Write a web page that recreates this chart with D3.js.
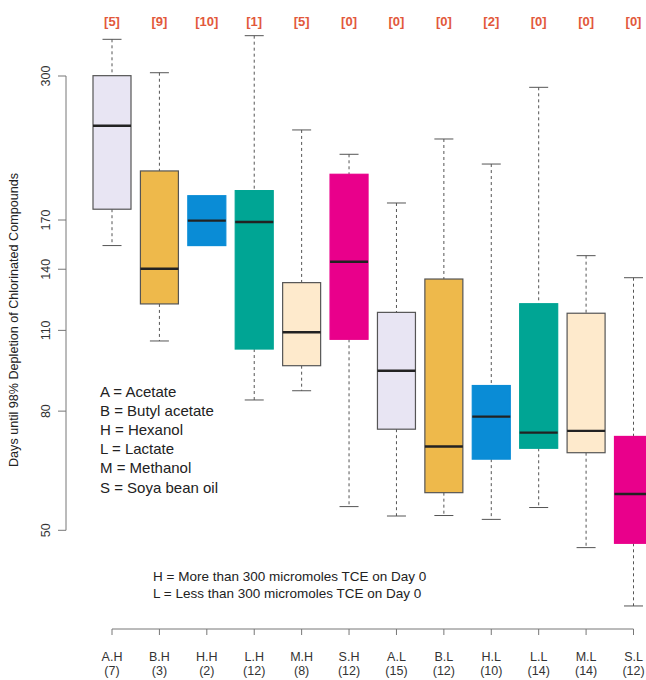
<!DOCTYPE html>
<html>
  <head>
    <meta charset="utf-8">
    <title>Days until 98% depletion</title>
    <script src="https://d3js.org/d3.v7.min.js"></script>
    <style>
      body { margin: 0; background: #fff; overflow: hidden; }
      svg { display: block; overflow: hidden; font-family: "Liberation Sans", Arial, sans-serif; }
    </style>
  </head>
  <body>
    <div id="chart"></div>
    <script>
      // groups: amendment . TCE level
      var groups = ["A.H", "B.H", "H.H", "L.H", "M.H", "S.H", "A.L", "B.L", "H.L", "L.L", "M.L", "S.L"];
      var counts = [7, 3, 2, 12, 8, 12, 15, 12, 10, 14, 14, 12];
      var notReached = [5, 9, 10, 1, 5, 0, 0, 0, 2, 0, 0, 0];
      // five-number summaries
      var lowWhisker = [153.7, 105.5, 153.7, 83.6, 86.7, 54.9, 52.9, 53.0, 52.2, 54.7, 46.7, 37.1];
      var q1 = [177.4, 122.1, 153.7, 102.2, 95.7, 106.2, 74.5, 58.0, 66.2, 69.1, 67.9, 47.5];
      var medians = [246.6, 140.3, 169.6, 168.7, 109.2, 144.2, 93.8, 69.6, 78.3, 73.5, 74.0, 57.7];
      var q3 = [300.4, 206.3, 187.1, 190.9, 132.8, 203.6, 118.1, 134.7, 88.5, 122.2, 117.7, 72.4];
      var highWhisker = [346.7, 303.9, 187.1, 351.7, 242.5, 220.3, 181.8, 234.0, 212.0, 286.9, 147.7, 135.4];
      var yTicks = [50, 80, 110, 140, 170, 300];
      var legendLines = ["A = Acetate", "B = Butyl acetate", "H = Hexanol", "L = Lactate", "M = Methanol", "S = Soya bean oil"];
      var levelLines = ["H = More than 300 micromoles TCE on Day 0", "L = Less than 300 micromoles TCE on Day 0"];

      // colour per amendment letter
      var fills = { A: "#e8e5f3", B: "#eeb94b", H: "#0a8cd6", L: "#00a594", M: "#feeacc", S: "#e9008b" };
      var outlined = { A: true, B: true, M: true };

      var width = 646, height = 680;
      var boxW = 38;

      var svg = d3.select("#chart").append("svg")
        .attr("width", width)
        .attr("height", height)
        .attr("viewBox", "0 0 " + width + " " + height);

      var x = d3.scalePoint().domain(groups).range([112, 633.5]);
      var y = d3.scaleLog().domain([50, 300]).range([530.3, 76]);

      var data = groups.map(function(g, i) {
        return {
          name: g, n: counts[i], na: notReached[i],
          lo: lowWhisker[i], q1: q1[i], med: medians[i], q3: q3[i], hi: highWhisker[i],
          key: g.charAt(0)
        };
      });

      var box = svg.selectAll(".box")
        .data(data)
        .enter().append("g")
        .attr("class", "box")
        .attr("transform", function(d) { return "translate(" + x(d.name) + ",0)"; });

      // dashed whiskers
      box.append("line")
        .attr("y1", function(d) { return y(d.hi); })
        .attr("y2", function(d) { return y(d.q3); })
        .attr("stroke", "#555").attr("stroke-dasharray", "3,3");
      box.append("line")
        .attr("y1", function(d) { return y(d.q1); })
        .attr("y2", function(d) { return y(d.lo); })
        .attr("stroke", "#555").attr("stroke-dasharray", "3,3");
      // caps
      box.selectAll(".cap")
        .data(function(d) { return d.hi > d.q3 ? [d.hi, d.lo] : []; })
        .enter().append("line")
        .attr("x1", -boxW / 4).attr("x2", boxW / 4)
        .attr("y1", function(v) { return y(v); })
        .attr("y2", function(v) { return y(v); })
        .attr("stroke", "#555");

      box.append("rect")
        .attr("x", -boxW / 2)
        .attr("width", boxW)
        .attr("y", function(d) { return y(d.q3); })
        .attr("height", function(d) { return y(d.q1) - y(d.q3); })
        .attr("fill", function(d) { return fills[d.key]; })
        .attr("stroke", function(d) { return outlined[d.key] ? "#555" : fills[d.key]; })
        .attr("stroke-width", 1.2);

      box.append("line")
        .attr("x1", -boxW / 2).attr("x2", boxW / 2)
        .attr("y1", function(d) { return y(d.med); })
        .attr("y2", function(d) { return y(d.med); })
        .attr("stroke", "#222").attr("stroke-width", 2.4);

      // count of samples not reaching 98% depletion
      box.append("text")
        .attr("y", 26)
        .attr("text-anchor", "middle")
        .attr("font-size", 13)
        .attr("font-weight", "bold")
        .attr("fill", "#e2583b")
        .text(function(d) { return "[" + d.na + "]"; });

      // y axis
      var yAxis = svg.append("g").attr("transform", "translate(66,0)");
      yAxis.append("line")
        .attr("y1", y(50)).attr("y2", y(300))
        .attr("stroke", "#777");
      yAxis.selectAll(".tick")
        .data(yTicks)
        .enter().append("line")
        .attr("x1", -8).attr("x2", 0)
        .attr("y1", function(v) { return y(v); })
        .attr("y2", function(v) { return y(v); })
        .attr("stroke", "#777");
      yAxis.selectAll(".lbl")
        .data(yTicks)
        .enter().append("text")
        .attr("transform", function(v) { return "translate(-16," + y(v) + ") rotate(-90)"; })
        .attr("text-anchor", "middle")
        .attr("font-size", 12.5)
        .attr("fill", "#333")
        .text(function(v) { return v; });

      svg.append("text")
        .attr("transform", "translate(18,320) rotate(-90)")
        .attr("text-anchor", "middle")
        .attr("font-size", 12.6)
        .attr("fill", "#222")
        .text("Days until 98% Depletion of Chlorinated Compounds");

      // x axis
      var xAxis = svg.append("g").attr("transform", "translate(0,629)");
      xAxis.append("line")
        .attr("x1", x(groups[0])).attr("x2", x(groups[groups.length - 1]))
        .attr("stroke", "#777");
      var xt = xAxis.selectAll(".xt")
        .data(data)
        .enter().append("g")
        .attr("transform", function(d) { return "translate(" + x(d.name) + ",0)"; });
      xt.append("line").attr("y1", 0).attr("y2", 6).attr("stroke", "#777");
      xt.append("text")
        .attr("y", 32).attr("text-anchor", "middle")
        .attr("font-size", 12.5).attr("fill", "#333")
        .text(function(d) { return d.name; });
      xt.append("text")
        .attr("y", 46).attr("text-anchor", "middle")
        .attr("font-size", 12.5).attr("fill", "#333")
        .text(function(d) { return "(" + d.n + ")"; });

      // legends
      svg.selectAll(".leg")
        .data(legendLines)
        .enter().append("text")
        .attr("x", 100)
        .attr("y", function(d, i) { return 397 + i * 19.1; })
        .attr("font-size", 15)
        .attr("fill", "#222")
        .text(function(d) { return d; });

      svg.selectAll(".lvl")
        .data(levelLines)
        .enter().append("text")
        .attr("x", 153)
        .attr("y", function(d, i) { return 581 + i * 16.5; })
        .attr("font-size", 13.5)
        .attr("fill", "#222")
        .text(function(d) { return d; });
    </script>
  </body>
</html>
